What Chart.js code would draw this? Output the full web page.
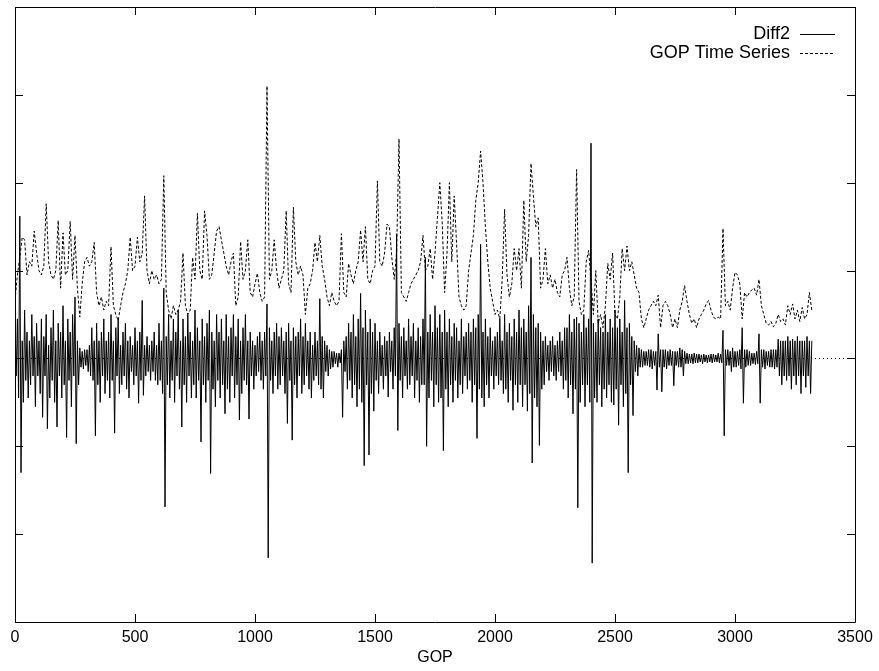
<!DOCTYPE html>
<html lang="en">
<head>
  <meta charset="UTF-8" />
  <title>Diff2 / GOP Time Series</title>
  <script src="https://cdn.jsdelivr.net/npm/chart.js"></script>
  <style>
    body {
      margin: 0;
      background: #fff;
    }
    canvas {
      display: block;
    }
  </style>
</head>
<body>
  <canvas id="gopChart" width="879" height="671"></canvas>

  <script>
    // values: GOP series every 10 GOPs, Diff2 every 5
    const GOP_STEP = 10;
    const DIFF_STEP = 5;

    const gopSeries = [
      0.66, 0.95, 1.15, 1.38, 1.35, 0.95, 1.1, 1.05, 1.45, 1.2,
      1.0, 0.95, 1.05, 1.76, 1.1, 0.95, 0.9, 1.0, 1.57, 0.8,
      1.43, 0.95, 1.0, 1.56, 0.9, 1.4, 0.8, 0.47, 0.85, 1.1,
      1.15, 1.05, 1.1, 1.32, 0.75, 0.6, 0.7, 0.55, 0.65, 0.6,
      1.27, 0.6, 0.5, 0.43, 0.6, 0.75, 0.85, 1.0, 1.38, 1.0,
      1.05, 1.38, 1.1, 1.2, 1.85, 1.0, 0.85, 1.0, 0.9, 0.95,
      0.85, 0.9, 2.08, 0.75, 0.55, 0.45, 0.6, 0.5, 0.55, 0.65,
      1.2, 0.6, 0.5, 0.55, 1.15, 0.9, 1.65, 1.0, 0.9, 1.68,
      1.4, 0.9, 0.95, 1.2, 1.45, 1.5, 1.35, 1.2, 1.05, 0.95,
      1.1, 1.2, 0.6, 0.7, 1.33, 0.9, 1.0, 1.35, 0.75, 0.7,
      0.85, 0.97, 0.75, 0.65, 0.7, 3.1, 0.9, 1.0, 1.35, 1.0,
      0.8, 0.9, 1.0, 1.68, 0.85, 0.75, 1.72, 1.1, 0.95, 1.05,
      0.95, 0.5, 0.8, 0.85, 1.0, 1.32, 1.1, 1.4, 1.05, 0.9,
      0.7, 0.6, 0.75, 0.65, 0.6, 0.65, 1.42, 0.75, 0.7, 1.08,
      0.95, 0.85, 1.0, 1.1, 1.46, 1.1, 1.5, 0.9, 0.85, 1.0,
      1.05, 2.02, 1.1, 1.05, 1.2, 1.53, 1.5, 1.15, 0.9, 1.2,
      2.5, 0.75, 0.7, 0.65, 0.75, 0.85, 0.9, 0.95, 1.0, 1.1,
      1.4, 1.0, 1.05, 1.25, 0.9, 1.2, 1.6, 2.0, 1.55, 0.75,
      1.2, 2.0, 1.1, 1.85, 1.3, 0.7, 0.6, 0.55, 0.6, 1.0,
      1.2, 1.4, 1.8, 2.0, 2.36, 2.0, 1.5, 1.1, 0.8, 0.65,
      0.5, 0.55, 0.45, 0.9, 1.7, 0.95, 0.7, 0.85, 1.25, 1.0,
      1.25, 0.8, 1.8, 1.1, 1.4, 2.22, 1.85, 1.5, 1.6, 0.8,
      0.9, 1.25, 0.85, 0.95, 0.8, 0.9, 0.75, 0.7, 0.95, 1.0,
      1.15, 0.8, 0.6, 0.7, 2.15, 0.65, 0.5, 0.55, 1.1, 1.23,
      0.9, 0.5, 1.0, 0.4, 0.5, 0.35, 0.6, 1.08, 0.9, 1.2,
      0.5, 0.45, 0.7, 1.25, 1.0, 1.28, 1.0, 1.1, 0.95, 0.8,
      0.75, 0.45, 0.35, 0.45, 0.55, 0.6, 0.65, 0.6, 0.72, 0.35,
      0.6, 0.65, 0.6, 0.5, 0.35, 0.45, 0.35, 0.55, 0.65, 0.83,
      0.65, 0.5, 0.4, 0.45, 0.35, 0.45, 0.5, 0.55, 0.62, 0.66,
      0.55, 0.47, 0.45, 0.47, 0.45, 1.48, 0.6, 0.65, 0.55, 0.8,
      0.98, 0.95, 0.85, 0.45, 0.75, 0.7, 0.75, 0.78, 0.8, 0.72,
      0.9, 0.6, 0.5, 0.4, 0.38, 0.42, 0.36, 0.4, 0.5, 0.42,
      0.45, 0.38, 0.6, 0.5, 0.62, 0.45, 0.55, 0.42, 0.58, 0.45,
      0.5, 0.75, 0.55
    ];

    const diff2Series = [
      0.35, -0.2, 0.45, -0.45, 1.62, -1.3, 0.2, -0.5, 0.55, -0.25, 0.3, -0.45, 0.2, -0.3, 0.5, -0.2, 0.25, -0.55, 0.4, -0.2,
      0.2, -0.4, 0.45, -0.67, 0.25, -0.2, 0.5, -0.8, 0.15, -0.45, 0.35, -0.25, 0.55, -0.5, 0.2, -0.78, 0.4, -0.2, 0.3, -0.45,
      0.6, -0.3, 0.2, -0.9, 0.45, -0.25, 0.3, -0.55, 0.5, -0.2, 0.7, -0.97, 0.2, -0.3, 0.12, -0.1, 0.08, -0.12, 0.1, -0.08,
      0.1, -0.15, 0.15, -0.2, 0.35, -0.25, 0.2, -0.88, 0.4, -0.3, 0.2, -0.5, 0.3, -0.2, 0.45, -0.4, 0.2, -0.25, 0.3, -0.45,
      0.5, -0.25, 0.2, -0.85, 0.35, -0.2, 0.45, -0.4, 0.15, -0.3, 0.3, -0.2, 0.4, -0.35, 0.2, -0.45, 0.25, -0.15, 0.15, -0.3,
      0.35, -0.2, 0.2, -0.51, 0.3, -0.25, 0.66, -0.42, 0.15, -0.2, 0.25, -0.15, 0.15, -0.25, 0.2, -0.15, 0.3, -0.25, 0.15, -0.3,
      0.4, -0.25, 0.2, -0.4, 0.8, -1.69, 0.25, -0.3, 0.5, -0.45, 0.2, -0.25, 0.45, -0.5, 0.3, -0.2, 0.55, -0.35, 0.2, -0.78,
      0.45, -0.3, 0.25, -0.5, 0.5, -0.2, 0.3, -0.45, 0.2, -0.3, 0.55, -0.45, 0.35, -0.25, 0.2, -0.95, 0.45, -0.3, 0.25, -0.5,
      0.4, -0.25, 0.55, -1.31, 0.3, -0.35, 0.2, -0.55, 0.5, -0.25, 0.3, -0.45, 0.45, -0.3, 0.2, -0.63, 0.5, -0.35, 0.25, -0.5,
      0.35, -0.2, 0.5, -0.45, 0.25, -0.3, 0.45, -0.7, 0.2, -0.4, 0.35, -0.25, 0.5, -0.3, 0.2, -0.69, 0.3, -0.2, 0.2, -0.35,
      0.15, -0.2, 0.25, -0.15, 0.3, -0.25, 0.2, -0.35, 0.3, -0.2, 0.62, -2.27, 0.35, -0.25, 0.2, -0.4, 0.3, -0.2, 0.4, -0.35,
      0.25, -0.3, 0.35, -0.2, 0.2, -0.4, 0.3, -0.74, 0.4, -0.25, 0.2, -0.93, 0.35, -0.3, 0.25, -0.45, 0.3, -0.2, 0.45, -0.4,
      0.25, -0.3, 0.4, -0.2, 0.2, -0.35, 0.3, -0.45, 0.15, -0.25, 0.3, -0.2, 0.2, -0.3, 0.68, -0.35, 0.25, -0.45, 0.2, -0.15,
      0.15, -0.2, 0.1, -0.12, 0.08, -0.1, 0.08, -0.06, 0.06, -0.1, 0.06, -0.05, 0.1, -0.67, 0.2, -0.15, 0.25, -0.35, 0.4, -0.25,
      0.3, -0.45, 0.5, -0.3, 0.25, -0.55, 0.45, -0.35, 0.74, -0.5, 0.35, -1.22, 0.55, -0.3, 0.3, -1.1, 0.45, -0.4, 0.3, -0.6,
      0.4, -0.25, 0.2, -0.4, 0.3, -0.2, 0.15, -0.35, 0.25, -0.2, 0.2, -0.44, 0.3, -0.15, 0.2, -0.35, 0.35, -0.2, 1.42, -0.82,
      0.4, -0.25, 0.25, -0.45, 0.35, -0.2, 0.2, -0.35, 0.45, -0.3, 0.25, -0.2, 0.4, -0.45, 0.2, -0.25, 0.35, -0.5, 0.25, -0.3,
      0.45, -0.3, 1.15, -1.0, 0.3, -0.45, 0.5, -0.25, 0.3, -0.55, 0.6, -0.3, 0.35, -0.5, 0.5, -0.45, 0.3, -1.05, 0.55, -0.35,
      0.3, -0.55, 0.45, -0.3, 0.25, -0.5, 0.4, -0.25, 0.35, -0.45, 0.2, -0.3, 0.45, -0.4, 0.25, -0.2, 0.3, -0.35, 0.4, -0.25,
      0.3, -0.5, 0.45, -0.3, 0.35, -0.91, 0.5, -0.35, 1.3, -0.45, 0.3, -0.55, 0.45, -0.3, 0.25, -0.45, 0.35, -0.2, 0.2, -0.35,
      0.25, -0.2, 0.3, -0.3, 0.45, -0.25, 0.2, -0.4, 0.5, -0.35, 0.3, -0.5, 0.4, -0.25, 0.25, -0.59, 0.45, -0.3, 0.3, -0.5,
      0.55, -0.3, 0.35, -0.55, 0.45, -0.3, 0.3, -0.6, 0.6, -0.4, 1.15, -1.19, 0.5, -0.45, 0.35, -0.55, 0.4, -0.99, 0.3, -0.35,
      0.2, -0.3, 0.25, -0.15, 0.15, -0.25, 0.2, -0.15, 0.25, -0.2, 0.15, -0.25, 0.2, -0.15, 0.3, -0.2, 0.2, -0.35, 0.35, -0.25,
      0.35, -0.45, 0.5, -0.3, 0.3, -0.63, 0.45, -0.35, 0.47, -1.7, 0.4, -0.5, 0.3, -0.3, 0.5, -0.55, 0.35, -0.3, 0.45, -0.5,
      2.45, -2.33, 0.4, -0.45, 0.3, -0.5, 0.45, -0.3, 0.35, -0.55, 0.3, -0.35, 0.5, -0.45, 0.3, -0.3, 0.45, -0.5, 0.35, -0.53,
      0.55, -0.35, 0.35, -0.76, 0.45, -0.3, 0.3, -0.55, 0.66, -0.4, 0.35, -1.3, 0.4, -0.3, 0.25, -0.65, 0.2, -0.15, 0.15, -0.2,
      0.12, -0.1, 0.1, -0.1, 0.08, -0.08, 0.08, -0.08, 0.1, -0.1, 0.1, -0.12, 0.08, -0.08, 0.08, -0.36, 0.28, -0.1, 0.1, -0.38,
      0.1, -0.1, 0.1, -0.12, 0.08, -0.08, 0.1, -0.08, 0.08, -0.31, 0.08, -0.08, 0.08, -0.1, 0.12, -0.1, 0.1, -0.2, 0.08, -0.06,
      0.06, -0.06, 0.05, -0.05, 0.05, -0.06, 0.06, -0.05, 0.05, -0.05, 0.05, -0.04, 0.04, -0.06, 0.05, -0.04, 0.04, -0.05, 0.04, -0.04,
      0.05, -0.05, 0.05, -0.04, 0.04, -0.04, 0.06, -0.05, 0.05, -0.05, 0.32, -0.88, 0.1, -0.08, 0.1, -0.08, 0.08, -0.15, 0.12, -0.1,
      0.08, -0.1, 0.08, -0.08, 0.1, -0.12, 0.35, -0.51, 0.1, -0.1, 0.1, -0.08, 0.08, -0.08, 0.06, -0.06, 0.06, -0.07, 0.08, -0.06,
      0.28, -0.51, 0.1, -0.1, 0.1, -0.12, 0.08, -0.08, 0.08, -0.1, 0.1, -0.1, 0.1, -0.12, 0.1, -0.1, 0.22, -0.2, 0.2, -0.3,
      0.2, -0.2, 0.2, -0.25, 0.25, -0.2, 0.2, -0.35, 0.22, -0.2, 0.2, -0.3, 0.25, -0.2, 0.2, -0.4, 0.2, -0.2, 0.2, -0.33,
      0.25, -0.2, 0.2, -0.4, 0.2
    ];

    const xTicks = [0, 500, 1000, 1500, 2000, 2500, 3000, 3500];
    const yTicks = [-3, -2, -1, 0, 1, 2, 3, 4];

    const toPoints = (arr, step) => arr.map((v, i) => ({ x: i * step, y: v }));

    const FONT = "'Liberation Sans', Arial, sans-serif";

    // gnuplot look: dotted zero axes, boxed frame, inward ticks, legend in the corner
    const gnuplotFrame = {
      id: "gnuplotFrame",
      beforeDatasetsDraw(chart) {
        const { ctx, chartArea: a, scales: { x, y } } = chart;
        ctx.save();
        ctx.strokeStyle = "#000";
        ctx.lineWidth = 1;
        ctx.setLineDash([1, 3]);
        const y0 = Math.round(y.getPixelForValue(0)) + 0.5;
        ctx.beginPath();
        ctx.moveTo(a.left, y0);
        ctx.lineTo(a.right, y0);
        const x0 = Math.round(x.getPixelForValue(0)) + 0.5;
        ctx.moveTo(x0, a.top);
        ctx.lineTo(x0, a.bottom);
        ctx.stroke();
        ctx.restore();
      },
      afterDraw(chart) {
        const { ctx, chartArea: a, scales: { x, y } } = chart;
        const tick = 8;
        ctx.save();
        ctx.strokeStyle = "#000";
        ctx.lineWidth = 1;
        ctx.beginPath();
        ctx.rect(Math.round(a.left) + 0.5, Math.round(a.top) + 0.5,
                 Math.round(a.width), Math.round(a.height));
        xTicks.forEach(t => {
          const px = Math.round(x.getPixelForValue(t)) + 0.5;
          ctx.moveTo(px, a.bottom); ctx.lineTo(px, a.bottom - tick);
          ctx.moveTo(px, a.top); ctx.lineTo(px, a.top + tick);
        });
        yTicks.forEach(t => {
          const py = Math.round(y.getPixelForValue(t)) + 0.5;
          ctx.moveTo(a.left, py); ctx.lineTo(a.left + tick, py);
          ctx.moveTo(a.right, py); ctx.lineTo(a.right - tick, py);
        });
        ctx.stroke();

        // legend
        ctx.font = "18px " + FONT;
        ctx.fillStyle = "#000";
        ctx.textAlign = "right";
        ctx.textBaseline = "middle";
        const textX = a.right - 65;
        chart.data.datasets.forEach((ds, i) => {
          const ly = 34 + i * 19;
          ctx.fillText(ds.label, textX, ly);
          ctx.setLineDash(ds.borderDash || []);
          ctx.beginPath();
          ctx.moveTo(textX + 10, ly + 0.5);
          ctx.lineTo(textX + 45, ly + 0.5);
          ctx.stroke();
        });
        ctx.restore();
      }
    };

    const chart = new Chart(document.getElementById("gopChart"), {
      type: "line",
      data: {
        datasets: [
          {
            label: "Diff2",
            data: toPoints(diff2Series, DIFF_STEP),
            borderColor: "#000",
            borderWidth: 1,
            pointRadius: 0,
            tension: 0
          },
          {
            label: "GOP Time Series",
            data: toPoints(gopSeries, GOP_STEP),
            borderColor: "#000",
            borderWidth: 1,
            borderDash: [3, 2],
            pointRadius: 0,
            tension: 0
          }
        ]
      },
      options: {
        responsive: false,
        animation: false,
        devicePixelRatio: 1,
        layout: { padding: { left: 15, right: 24, top: 7, bottom: 0 } },
        plugins: {
          legend: { display: false },
          tooltip: { enabled: false }
        },
        scales: {
          x: {
            type: "linear",
            min: 0,
            max: 3500,
            grid: { display: false, drawTicks: false },
            border: { display: false },
            afterFit: scale => { scale.height = 49; },
            ticks: {
              stepSize: 500,
              padding: 6,
              color: "#000",
              maxRotation: 0,
              font: { family: FONT, size: 16 },
              callback: v => String(v)
            },
            title: {
              display: true,
              text: "GOP",
              color: "#000",
              padding: { top: 4, bottom: 4 },
              font: { family: FONT, size: 16 }
            }
          },
          y: {
            display: false,
            min: -3,
            max: 4
          }
        }
      },
      plugins: [gnuplotFrame]
    });
  </script>
</body>
</html>
